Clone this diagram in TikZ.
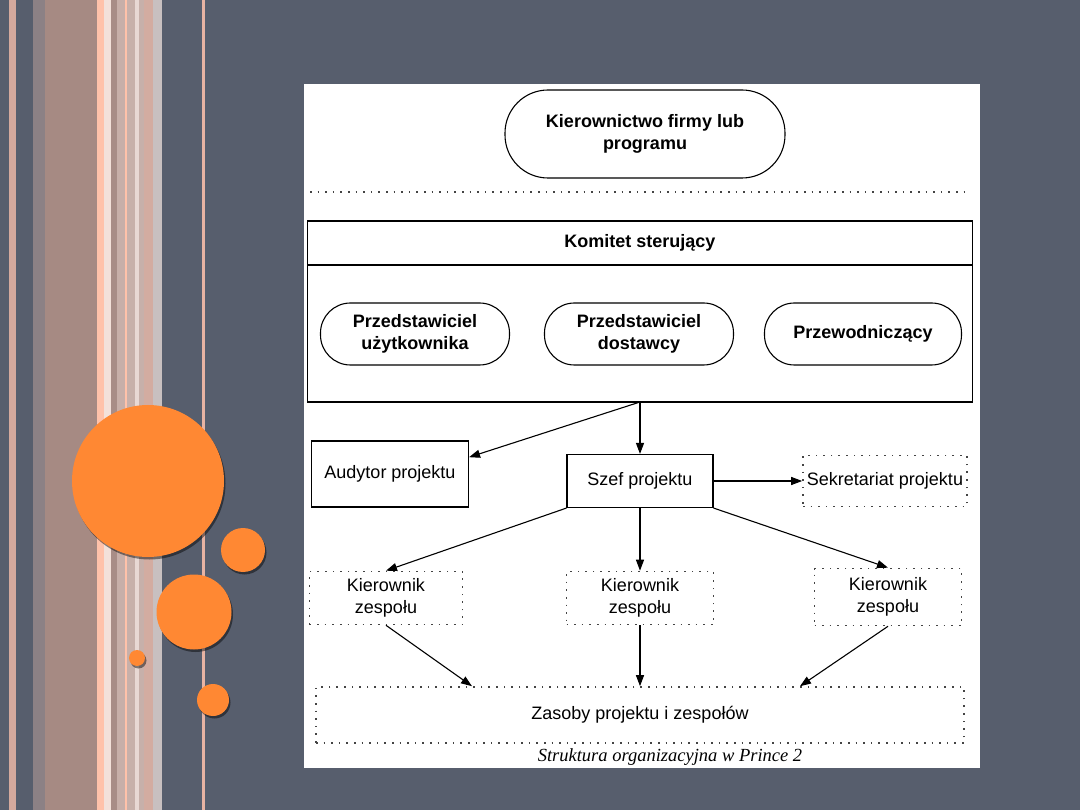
\documentclass[tikz,border=0pt]{standalone}
\usepackage{fontspec}
\setmainfont{Liberation Sans}
\newfontfamily\podpisfont{Liberation Serif}
\usetikzlibrary{positioning,calc,arrows.meta}
\definecolor{slate}{HTML}{575E6D}
\definecolor{orng}{HTML}{FF8833}
\definecolor{kropki}{HTML}{444444}
\begin{document}
\begin{tikzpicture}[x=1pt,y=-1pt,
  oval/.style={draw,line width=1.1pt,rounded corners=30pt,align=center,font=\fontsize{18}{22}\selectfont\bfseries},
  box/.style={draw,line width=1.1pt,align=center,font=\fontsize{18}{22}\selectfont},
  dotbox/.style={draw=kropki,line width=1.6pt,dash pattern=on 1.6pt off 6pt,align=center,font=\fontsize{18}{22}\selectfont},
  arr/.style={-{Triangle[length=11pt,width=8pt]},line width=1.1pt}]
\useasboundingbox (0,0) rectangle (1080,810);
\fill[slate] (0,0) rectangle (1080,810);
% stripes
\foreach \a/\b/\c in {9/16/D4A99D,33/45/8C8185,45/97/A68A83,97/104/FFC2AA,104/111/F3E1DA,
  111/117/A88D87,117/125/C7AFA9,125/127/FFC2AA,127/135/C7B0AA,135/139/E8D8D4,
  139/144/C7B0AA,144/153/D3ACA1,153/162/C8C0C0,202/205/E7B3A3}
{\definecolor{pasek}{HTML}{\c}\fill[pasek] (\a,0) rectangle (\b,810);}
% circles
\foreach \x/\y/\r in {148/481/76,243/550/22,194/612/37.5,137/658/8,213/700/16}
{\fill[black,opacity=0.45] (\x+1.5,\y+2.5) circle[radius=\r];
 \fill[orng] (\x,\y) circle[radius=\r];}
% sheet
\fill[white] (304,84) rectangle (980,768);
\node[oval,minimum width=280,minimum height=88,rounded corners=43pt] (zarzad) at (645,134) {Kierownictwo firmy lub\\programu};
\draw[kropki,line width=1.6pt,dash pattern=on 1.6pt off 6pt] (310,192) -- (970,192);
\node[box,outer sep=0pt,minimum width=665,minimum height=44,font=\fontsize{18}{22}\selectfont\bfseries] (komitet) at (640,243) {Komitet sterujący};
\node[box,outer sep=0pt,minimum width=665,minimum height=137,anchor=north] (czlonkowie) at (komitet.south) {};
\node[oval,minimum width=189,minimum height=62] (uzytk) at (415,334) {Przedstawiciel\\użytkownika};
\node[oval,minimum width=189,minimum height=62] (dostawca) at (639,334) {Przedstawiciel\\dostawcy};
\node[oval,minimum width=197,minimum height=62] (przew) at (863,334) {Przewodniczący};
\node[box,minimum width=157,minimum height=66] (audytor) at (390,474) {Audytor projektu};
\node[box,minimum width=146,minimum height=53] (szef) at (640,481) {Szef projektu};
\node[dotbox,minimum width=164,minimum height=51] (sekretariat) at (885,481) {Sekretariat projektu};
\node[dotbox,minimum width=153,minimum height=53] (kier1) at (386,598) {Kierownik\\zespołu};
\node[dotbox,minimum width=147,minimum height=53] (kier2) at (640,598) {Kierownik\\zespołu};
\node[dotbox,minimum width=147,minimum height=57] (kier3) at (888,597) {Kierownik\\zespołu};
\node[dotbox,minimum width=648,minimum height=56] (zasoby) at (640,715) {Zasoby projektu i zespołów};
\node[font=\fontsize{18.5}{20}\selectfont\podpisfont\itshape] (podpis) at (670,757) {Struktura organizacyjna w Prince 2};
\draw[arr] (czlonkowie.south) -- (szef.north);
\draw[arr] (czlonkowie.south) -- (audytor.12);
\draw[arr] (szef.east) -- (sekretariat.west);
\draw[arr] (szef.south west) -- (kier1.north);
\draw[arr] (szef.south) -- (kier2.north);
\draw[arr] (szef.south east) -- (kier3.north);
\draw[arr] (kier1.south) -- ($(zasoby.north)+(-168,0)$);
\draw[arr] (kier2.south) -- (zasoby.north);
\draw[arr] (kier3.south) -- ($(zasoby.north)+(160,0)$);
\end{tikzpicture}
\end{document}
